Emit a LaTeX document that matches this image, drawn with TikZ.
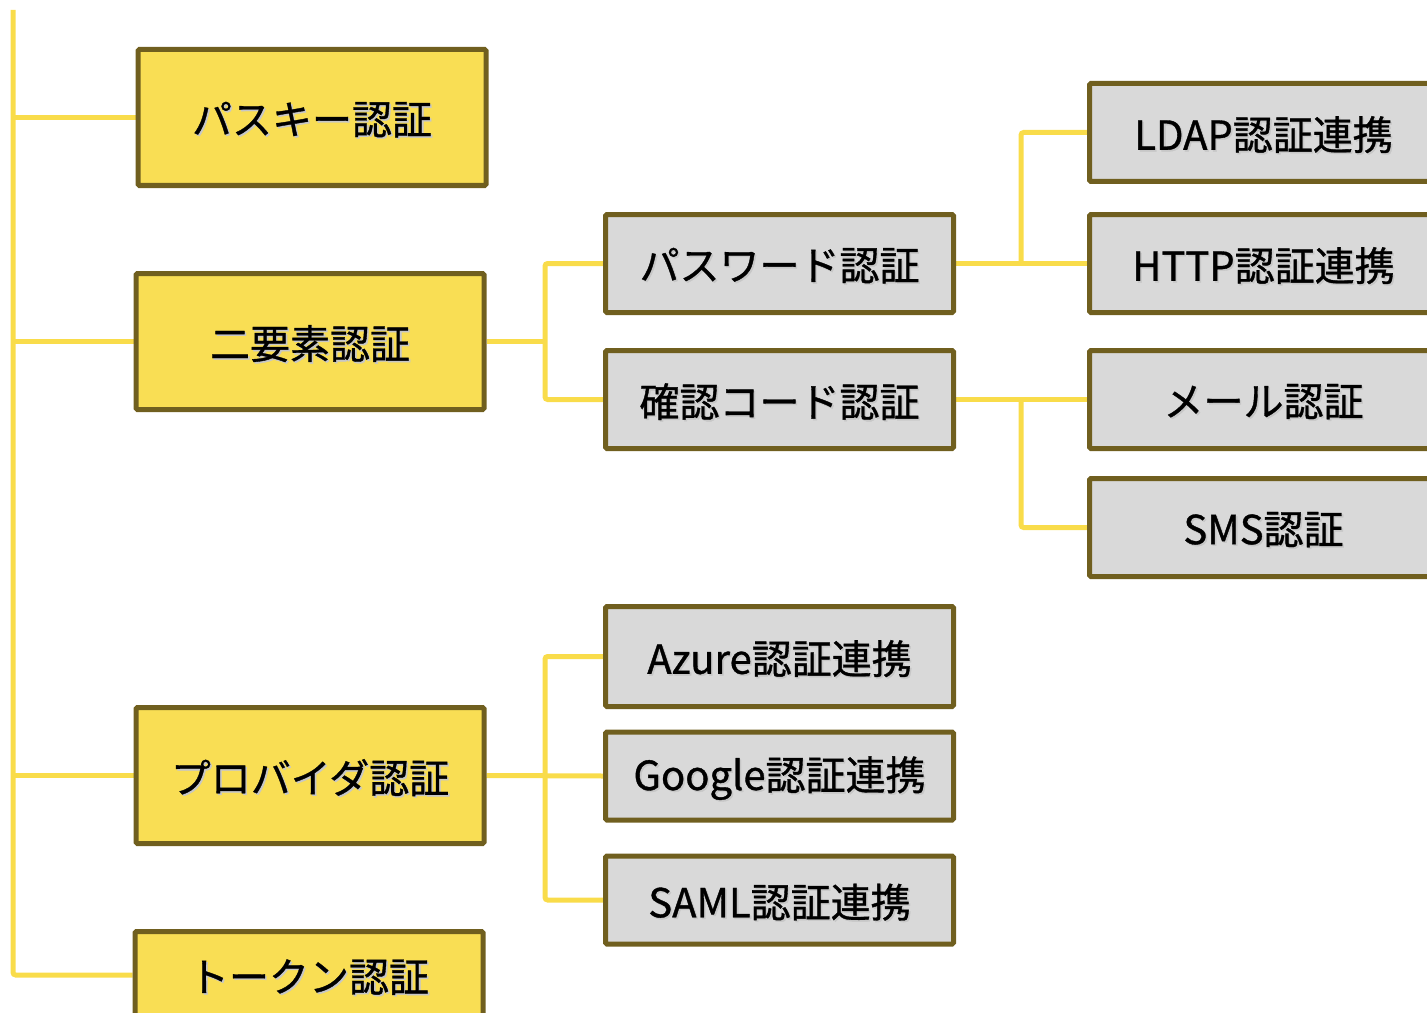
\documentclass[tikz,border=0pt]{standalone}
\usepackage{fontspec}
\setmainfont[FakeBold=0.9]{Noto Sans CJK JP}
\usetikzlibrary{backgrounds}

\definecolor{boxyellow}{RGB}{249,222,84}
\definecolor{boxgrey}{RGB}{217,217,217}
\definecolor{boxedge}{RGB}{112,95,31}
\definecolor{linkyellow}{RGB}{249,220,74}

\tikzset{every picture/.style={line width=0.75pt}}
\tikzset{
  authbox/.style={draw=boxedge, line width=3.75pt, rounded corners=1pt, inner sep=0pt,
    minimum width=261pt, font=\fontsize{30}{36}\selectfont},
  mainbox/.style={authbox, fill=boxyellow, minimum height=102pt},
  subbox/.style={authbox, fill=boxgrey, minimum height=73.5pt},
  link/.style={draw=linkyellow, line width=3.75pt, rounded corners=2pt}
}
\newcommand{\shd}[1]{\raisebox{-2.2pt}[\height][\depth]{\leavevmode\rlap{\color{black!22}\hspace{1.2pt}\raisebox{-1.2pt}{#1}}#1}}

\begin{document}
\begin{tikzpicture}[x=0.75pt,y=0.75pt,yscale=-1,xscale=1]
	\useasboundingbox (0,0) rectangle (1427,1013);

	% Text Node
	\node [mainbox] (passkey) at (312,117.5) {\shd{パスキー認証}};
	% Text Node
	\node [mainbox] (twofactor) at (310,341.5) {\shd{二要素認証}};
	% Text Node
	\node [mainbox] (provider) at (310,775.5) {\shd{プロバイダ認証}};
	% Text Node
	\node [mainbox, minimum height=65pt] (token) at (309,975) {\shd{トークン認証}};

	% Text Node
	\node [subbox] (password) at (779.5,263.5) {\shd{パスワード認証}};
	% Text Node
	\node [subbox] (code) at (779.5,399.5) {\shd{確認コード認証}};
	% Text Node
	\node [subbox, minimum height=75pt] (azure) at (779.5,656.5) {\shd{Azure認証連携}};
	% Text Node
	\node [subbox, minimum height=66pt] (google) at (779.5,776) {\shd{Google認証連携}};
	% Text Node
	\node [subbox, minimum height=66pt] (saml) at (779.5,900) {\shd{SAML認証連携}};

	% Text Node
	\node [subbox] (ldap) at (1263.5,132.5) {\shd{LDAP認証連携}};
	% Text Node
	\node [subbox] (http) at (1263.5,263.5) {\shd{HTTP認証連携}};
	% Text Node
	\node [subbox] (mail) at (1263.5,399.5) {\shd{メール認証}};
	% Text Node
	\node [subbox] (sms) at (1263.5,527.5) {\shd{SMS認証}};

	\coordinate (trunk) at (13,10);
	\coordinate (tfjoin) at (545,341.5);
	\coordinate (pvjoin) at (545,775.5);
	\coordinate (pwjoin) at (1021,263.5);
	\coordinate (cdjoin) at (1021,399.5);

	\begin{scope}[on background layer]
	%Straight Lines
	\draw [link] (trunk) |- (token.west);
	\draw [link] (passkey.west -| trunk) -- (passkey.west);
	\draw [link] (twofactor.west -| trunk) -- (twofactor.west);
	\draw [link] (provider.west -| trunk) -- (provider.west);
	%Straight Lines
	\draw [link] (twofactor.east) -- (tfjoin);
	\draw [link] (password.west) -| (tfjoin) |- (code.west);
	\draw [link] (provider.east) -- (google.west);
	\draw [link] (azure.west) -| (pvjoin) |- (saml.west);
	%Straight Lines
	\draw [link] (password.east) -- (http.west);
	\draw [link] (pwjoin) |- (ldap.west);
	\draw [link] (code.east) -- (mail.west);
	\draw [link] (cdjoin) |- (sms.west);
	\end{scope}

\end{tikzpicture}
\end{document}
